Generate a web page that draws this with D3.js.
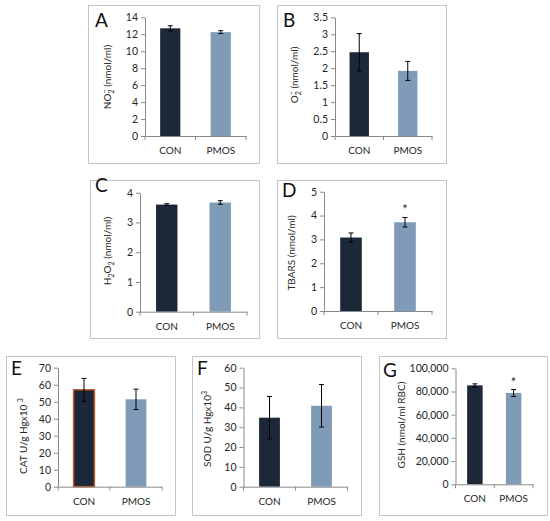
<!DOCTYPE html>
<html><head><meta charset="utf-8">
<script src="https://cdn.jsdelivr.net/npm/d3@7"></script>
<style>
html,body{margin:0;padding:0;background:#fff;}
svg{display:block;font-family:Lato,"Open Sans",sans-serif;}
</style></head>
<body>
<svg id="c" width="550" height="521"></svg>
<script>
// ---- data ----
const categories = ["CON", "PMOS"];
const panelLetters = ["A", "B", "C", "D", "E", "F", "G"];

const no2Values = [12.7, 12.25];
const no2Errors = [0.3, 0.17];
const no2Ticks = [0, 2, 4, 6, 8, 10, 12, 14];

const o2Values = [2.47, 1.92];
const o2Errors = [0.55, 0.28];
const o2Ticks = [0, 0.5, 1, 1.5, 2, 2.5, 3, 3.5];

const h2o2Values = [3.6, 3.67];
const h2o2Errors = [0.03, 0.06];
const h2o2Ticks = [0, 1, 2, 3, 4];

const tbarsValues = [3.08, 3.72];
const tbarsErrors = [0.19, 0.2];
const tbarsTicks = [0, 1, 2, 3, 4, 5];

const catValues = [57, 51.4];
const catErrors = [6.7, 6];
const catTicks = [0, 10, 20, 30, 40, 50, 60, 70];

const sodValues = [34.8, 40.8];
const sodErrors = [10.7, 10.7];
const sodTicks = [0, 10, 20, 30, 40, 50, 60];

const gshValues = [85300, 78700];
const gshErrors = [1300, 3000];
const gshTicks = [0, 20000, 40000, 60000, 80000, 100000];

const significant = [false, false, false, true, false, false, true];

// ---- styling / layout ----
const barColors = ["#1c2838", "#7f9bb8"];
const svg = d3.select("#c");

const panels = [
  {box:[88,5,259,163], xr:[145,246], yr:[136,17.3], vals:no2Values, errs:no2Errors, ticks:no2Ticks, fmt:d3.format("d"),
   title:[["NO",0],["2",1],["−",3],[" (nmol/ml)",0]], tx:111, ty:77, lx:95, ly:27},
  {box:[277,5,446,163], xr:[335,432], yr:[136,17.3], vals:o2Values, errs:o2Errors, ticks:o2Ticks, fmt:d3.format(""),
   title:[["O",0],["2",1],["−",3],[" (nmol/ml)",0]], tx:298, ty:75, lx:283, ly:27},
  {box:[90,180,259,338], xr:[140,247], yr:[311.7,192.7], vals:h2o2Values, errs:h2o2Errors, ticks:h2o2Ticks, fmt:d3.format("d"),
   title:[["H",0],["2",1],["O",0],["2",1],[" (nmol/ml)",0]], tx:111, ty:251, lx:95, ly:192},
  {box:[277,180,446,338], xr:[324,432], yr:[311,191.7], vals:tbarsValues, errs:tbarsErrors, ticks:tbarsTicks, fmt:d3.format("d"),
   title:[["TBARS (nmol/ml)",0]], tx:295, ty:253, lx:282, ly:197},
  {box:[6,356,175,515], xr:[58,162], yr:[486.7,367.7], vals:catValues, errs:catErrors, ticks:catTicks, fmt:d3.format("d"),
   title:[["CAT U/g Hgx10 ",0],["3",2]], tx:27, ty:436, lx:11, ly:375, outline:"#b35a25"},
  {box:[192,356,361,515], xr:[243.5,347.5], yr:[486.7,367.7], vals:sodValues, errs:sodErrors, ticks:sodTicks, fmt:d3.format("d"),
   title:[["SOD U/g Hgx10",0],["3",2]], tx:211, ty:429, lx:197, ly:375},
  {box:[379,356,547,515], xr:[455.5,533], yr:[484.3,368.3], vals:gshValues, errs:gshErrors, ticks:gshTicks, fmt:d3.format(","),
   title:[["GSH (nmol/ml RBC)",0]], tx:405, ty:425, lx:383, ly:377}
];

const textColor = "#262626";
const axisColor = "#8a8a8a";

panels.forEach((p, i) => {
  const g = svg.append("g");
  // panel frame
  g.append("rect")
    .attr("x", p.box[0] + 0.5).attr("y", p.box[1] + 0.5)
    .attr("width", p.box[2] - p.box[0]).attr("height", p.box[3] - p.box[1])
    .attr("fill", "#fff").attr("stroke", "#c4c4c4").attr("stroke-width", 1);

  const x = d3.scaleBand().domain(categories).range(p.xr).paddingInner(0).paddingOuter(0);
  const ymax = p.ticks[p.ticks.length - 1];
  const y = d3.scaleLinear().domain([0, ymax]).range(p.yr);
  const bw = x.bandwidth() / 2.5;

  // bars
  g.selectAll(".bar").data(categories).join("rect")
    .attr("x", c => x(c) + (x.bandwidth() - bw) / 2)
    .attr("y", (c, k) => y(p.vals[k]))
    .attr("width", bw)
    .attr("height", (c, k) => y(0) - y(p.vals[k]))
    .attr("fill", (c, k) => barColors[k])
    .attr("stroke", (c, k) => (k === 0 && p.outline) ? p.outline : "none")
    .attr("stroke-width", 1.5);

  // error bars
  categories.forEach((c, k) => {
    const cx = x(c) + x.bandwidth() / 2;
    const hi = y(p.vals[k] + p.errs[k]), lo = y(p.vals[k] - p.errs[k]);
    const eg = g.append("g").attr("stroke", "#000").attr("stroke-width", 1);
    eg.append("line").attr("x1", cx).attr("x2", cx).attr("y1", hi).attr("y2", lo);
    eg.append("line").attr("x1", cx - 2.5).attr("x2", cx + 2.5).attr("y1", hi).attr("y2", hi);
    eg.append("line").attr("x1", cx - 2.5).attr("x2", cx + 2.5).attr("y1", lo).attr("y2", lo);
    if (k === 1 && significant[i]) {
      g.append("text").attr("x", cx).attr("y", hi - 3).attr("text-anchor", "middle")
        .attr("font-size", 13).attr("fill", textColor).text("*");
    }
  });

  // y axis
  const ya = g.append("g").attr("transform", `translate(${p.xr[0]},0)`)
    .call(d3.axisLeft(y).tickValues(p.ticks).tickFormat(p.fmt).tickSize(4).tickSizeOuter(0).tickPadding(3));
  ya.select(".domain").attr("stroke", axisColor);
  ya.selectAll(".tick line").attr("stroke", axisColor);
  ya.selectAll("text").attr("font-size", 10.5).attr("fill", textColor).attr("font-family", "Lato");

  // x axis
  const xa = g.append("g").attr("transform", `translate(0,${p.yr[0]})`)
    .call(d3.axisBottom(x).tickSize(0).tickSizeOuter(0).tickPadding(11));
  xa.select(".domain").attr("stroke", axisColor);
  xa.selectAll("text").attr("font-size", 10).attr("fill", textColor).attr("font-family", "Lato");
  const bounds = [p.xr[0], ...categories.map(c => x(c) + x.bandwidth())];
  xa.selectAll(".bnd").data(bounds).join("line")
    .attr("x1", d => d).attr("x2", d => d).attr("y1", 0).attr("y2", 4)
    .attr("stroke", axisColor);

  // y title
  const t = g.append("text")
    .attr("transform", `translate(${p.tx},${p.ty}) rotate(-90)`)
    .attr("text-anchor", "middle").attr("font-size", 10).attr("fill", textColor);
  let shift = 0;
  p.title.forEach(([s, kind]) => {
    // 0 normal, 1 subscript, 2 superscript, 3 superscript stacked over previous subscript
    let target = kind === 1 ? 3 : (kind === 2 || kind === 3) ? -4 : 0;
    const ts = t.append("tspan").attr("dy", target - shift)
      .attr("font-size", kind ? 7 : 10).text(s);
    if (kind === 3) ts.attr("dx", -4);
    shift = target;
  });

  // panel letter
  g.append("text").attr("x", p.lx).attr("y", p.ly)
    .attr("font-size", 19).attr("fill", "#111").text(panelLetters[i]);
});
</script>
</body></html>
